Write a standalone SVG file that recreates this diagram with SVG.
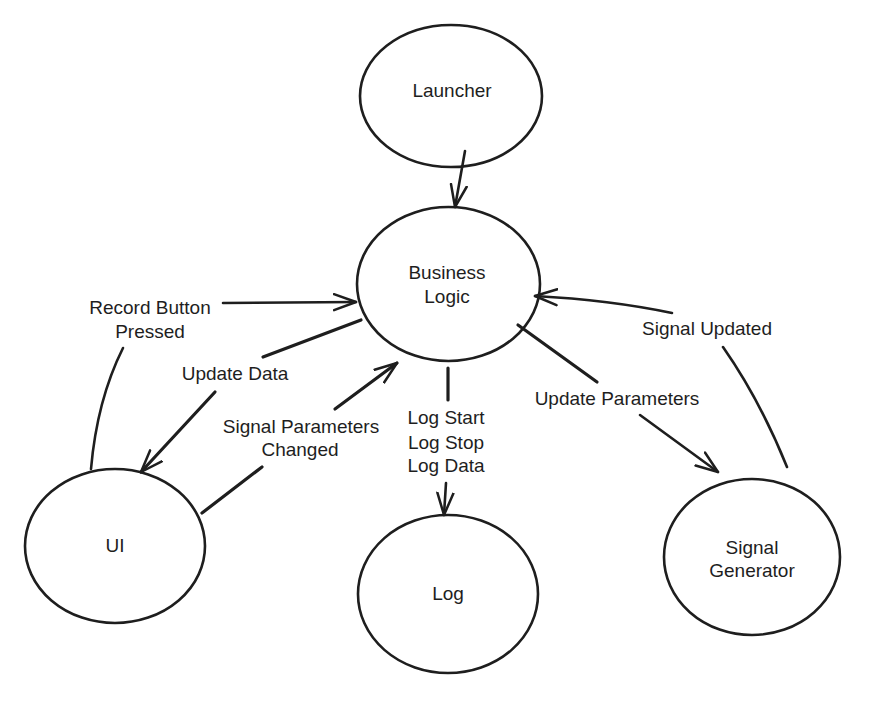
<svg xmlns="http://www.w3.org/2000/svg" width="871" height="705" viewBox="0 0 871 705">
<style>
.node{fill:none;stroke:#1e1e1e;stroke-width:2.6}
.lbl{font-family:"Liberation Sans",Arial,sans-serif;font-size:19px;fill:#1e1e1e;text-anchor:middle;dominant-baseline:central}
.edge{fill:none;stroke:#1e1e1e;stroke-width:2.6;stroke-linecap:round}
.thick{stroke-width:3.2}
</style>
<defs>
<marker id="ah" viewBox="0 0 26 22" refX="23" refY="11" markerWidth="26" markerHeight="22" orient="auto" markerUnits="userSpaceOnUse">
<path d="M1,3 L23,11 L1,19" fill="none" stroke="#1e1e1e" stroke-width="2.5" stroke-linecap="round" stroke-linejoin="round"/>
</marker>
</defs>
<rect width="871" height="705" fill="#ffffff"/>
<g id="launcher">
<ellipse class="node" cx="451" cy="96" rx="91" ry="71"/>
<text class="lbl" x="452" y="90">Launcher</text>
</g>
<g id="business-logic">
<ellipse class="node" cx="448.5" cy="284" rx="91.5" ry="77"/>
<text class="lbl" x="447" y="272">Business</text>
<text class="lbl" x="447" y="296">Logic</text>
</g>
<g id="ui">
<ellipse class="node" cx="115" cy="546" rx="90" ry="77"/>
<text class="lbl" x="115" y="545">UI</text>
</g>
<g id="log">
<ellipse class="node" cx="448" cy="594" rx="90" ry="79"/>
<text class="lbl" x="448" y="593">Log</text>
</g>
<g id="signal-generator">
<ellipse class="node" cx="752" cy="557" rx="88" ry="78"/>
<text class="lbl" x="752" y="547">Signal</text>
<text class="lbl" x="752" y="570">Generator</text>
</g>
<g id="connectors">
<path class="edge" d="M465,151 L455,207" marker-end="url(#ah)"/>
<path class="edge" d="M91,469 Q97,400 123,348"/>
<path class="edge" d="M223,303 L356,302" marker-end="url(#ah)"/>
<path class="edge thick" d="M361,320 L263,357"/>
<path class="edge thick" d="M215,392 L141,472" marker-end="url(#ah)"/>
<path class="edge thick" d="M202,513 L262,467"/>
<path class="edge thick" d="M335,409 L397,363" marker-end="url(#ah)"/>
<path class="edge thick" d="M448,368 L448,400"/>
<path class="edge" d="M446,483 L444,515" marker-end="url(#ah)"/>
<path class="edge thick" d="M518,325 L597,382"/>
<path class="edge" d="M640,415 L718,472" marker-end="url(#ah)"/>
<path class="edge" d="M787,467 Q760,400 723,347"/>
<path class="edge" d="M672,313 Q610,300 535,296" marker-end="url(#ah)"/>
<text class="lbl" x="150" y="307">Record Button</text>
<text class="lbl" x="150" y="331">Pressed</text>
<text class="lbl" x="235" y="373">Update Data</text>
<text class="lbl" x="301" y="426">Signal Parameters</text>
<text class="lbl" x="300" y="449">Changed</text>
<text class="lbl" x="446" y="417">Log Start</text>
<text class="lbl" x="446" y="442">Log Stop</text>
<text class="lbl" x="446" y="465">Log Data</text>
<text class="lbl" x="617" y="398">Update Parameters</text>
<text class="lbl" x="707" y="328">Signal Updated</text>
</g>
</svg>
